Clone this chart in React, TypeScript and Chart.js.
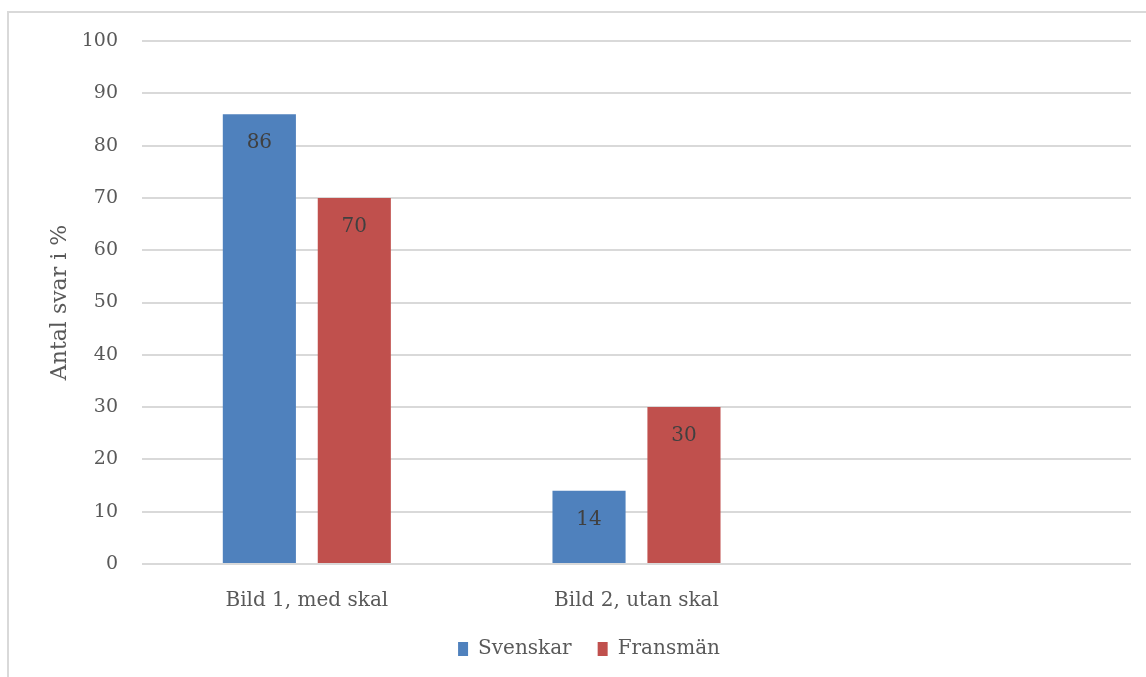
import React, { useEffect, useRef } from "react";
import { Chart, registerables } from "chart.js";

Chart.register(...registerables);

const categories = ["Bild 1, med skal", "Bild 2, utan skal", ""];
const svenskar = [86, 14, null];
const fransman = [70, 30, null];
const seriesNames = ["Svenskar", "Fransmän"];
const yTitle = "Antal svar i %";

const FONT = "'DejaVu Serif', serif";
const TEXT = "#595959";

const framePlugin = {
  id: "frame",
  beforeDraw(chart: any) {
    const ctx = chart.ctx;
    ctx.save();
    ctx.fillStyle = "#ffffff";
    ctx.fillRect(0, 0, chart.width, chart.height);
    ctx.strokeStyle = "#d9d9d9";
    ctx.lineWidth = 2;
    ctx.beginPath();
    ctx.moveTo(8, chart.height);
    ctx.lineTo(8, 12);
    ctx.lineTo(chart.width, 12);
    ctx.stroke();
    ctx.restore();
  },
};

const labelPlugin = {
  id: "barLabels",
  afterDatasetsDraw(chart: any) {
    const ctx = chart.ctx;
    ctx.save();
    ctx.font = `20px ${FONT}`;
    ctx.fillStyle = "#404040";
    ctx.textAlign = "center";
    ctx.textBaseline = "middle";
    chart.data.datasets.forEach((ds: any, i: number) => {
      const meta = chart.getDatasetMeta(i);
      meta.data.forEach((bar: any, j: number) => {
        const v = ds.data[j];
        if (v === null || v === undefined) return;
        ctx.fillText(String(v), bar.x, bar.y + 29);
      });
    });
    ctx.restore();
  },
};

export default function App() {
  const ref = useRef<HTMLCanvasElement | null>(null);
  useEffect(() => {
    if (!ref.current) return;
    const chart = new Chart(ref.current, {
      type: "bar",
      data: {
        labels: categories,
        datasets: [
          {
            label: seriesNames[0],
            data: svenskar,
            backgroundColor: "#4f81bd",
            categoryPercentage: 0.576,
            barPercentage: 0.77,
          },
          {
            label: seriesNames[1],
            data: fransman,
            backgroundColor: "#c0504d",
            categoryPercentage: 0.576,
            barPercentage: 0.77,
          },
        ],
      },
      options: {
        animation: false,
        responsive: false,
        maintainAspectRatio: false,
        layout: { padding: { left: 47, right: 15, top: 41, bottom: 8 } },
        plugins: {
          tooltip: { enabled: false },
          legend: {
            position: "bottom",
            labels: {
              font: { family: FONT, size: 20 },
              color: TEXT,
              boxWidth: 10,
              boxHeight: 14,
              padding: 26,
            },
          },
        },
        scales: {
          x: {
            grid: { display: false },
            border: { display: false },
            ticks: {
              color: TEXT,
              font: { family: FONT, size: 20 },
              padding: 17,
              maxRotation: 0,
            },
            afterFit(scale: any) {
              scale.height = 49;
            },
          },
          y: {
            min: 0,
            max: 100,
            border: { display: false },
            grid: { color: "#d9d9d9", lineWidth: 2, drawTicks: false },
            ticks: {
              stepSize: 10,
              color: TEXT,
              font: { family: FONT, size: 19 },
              padding: 24,
            },
            title: {
              display: true,
              text: yTitle,
              color: TEXT,
              font: { family: FONT, size: 22 },
              padding: 0,
            },
            afterFit(scale: any) {
              scale.width = 95;
            },
          },
        },
      },
      plugins: [framePlugin, labelPlugin],
    });
    return () => chart.destroy();
  }, []);
  return (
    <div style={{ position: "absolute", left: 0, top: 0, width: 1146, height: 677 }}>
      <canvas ref={ref} width={1146} height={677} style={{ display: "block" }} />
    </div>
  );
}
